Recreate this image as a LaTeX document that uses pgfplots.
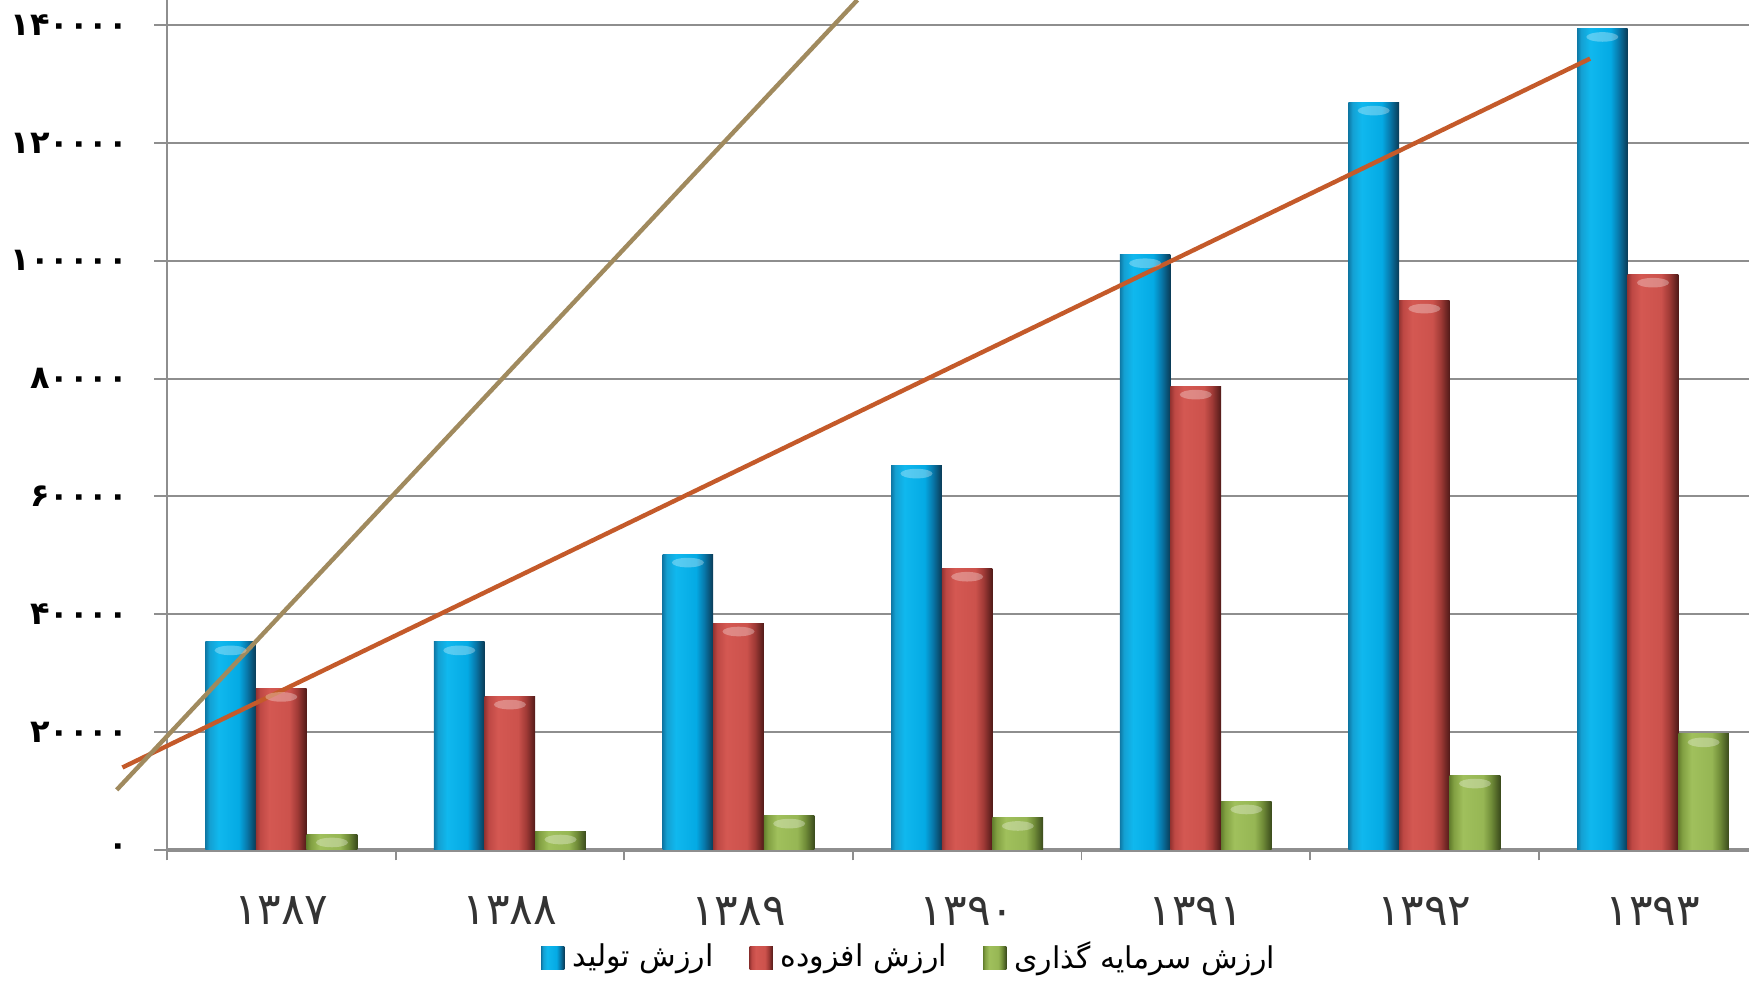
\documentclass[border=0pt]{standalone}
\usepackage{fontspec}
\usepackage{pgfplots}
\usepackage{pgfplotstable}
\pgfplotsset{compat=1.18}
\usetikzlibrary{shapes.geometric}
\TeXXeTstate=1
\newfontfamily\arabicfont[Script=Arabic]{DejaVu Sans}

\definecolor{gridgray}{HTML}{8E8E8E}
\definecolor{trendorange}{HTML}{C45A2A}
\definecolor{trendtan}{HTML}{A08A5E}

% cylinder-like bar shadings; the bar spans 25bp..75bp of the 100bp shading
\pgfdeclarehorizontalshading{barblue}{100bp}{%
  color(0bp)=(rgb,255:red,14;green,120;blue,165);
  color(25bp)=(rgb,255:red,14;green,120;blue,165);
  color(29bp)=(rgb,255:red,20;green,160;blue,210);
  color(38bp)=(rgb,255:red,16;green,184;blue,238);
  color(58bp)=(rgb,255:red,4;green,170;blue,228);
  color(66bp)=(rgb,255:red,8;green,120;blue,170);
  color(75bp)=(rgb,255:red,10;green,58;blue,85);
  color(100bp)=(rgb,255:red,10;green,58;blue,85)}
\pgfdeclarehorizontalshading{barred}{100bp}{%
  color(0bp)=(rgb,255:red,150;green,52;blue,50);
  color(25bp)=(rgb,255:red,150;green,52;blue,50);
  color(29bp)=(rgb,255:red,190;green,72;blue,68);
  color(38bp)=(rgb,255:red,212;green,88;blue,82);
  color(58bp)=(rgb,255:red,204;green,82;blue,76);
  color(66bp)=(rgb,255:red,160;green,58;blue,54);
  color(75bp)=(rgb,255:red,80;green,26;blue,24);
  color(100bp)=(rgb,255:red,80;green,26;blue,24)}
\pgfdeclarehorizontalshading{bargreen}{100bp}{%
  color(0bp)=(rgb,255:red,100;green,128;blue,46);
  color(25bp)=(rgb,255:red,100;green,128;blue,46);
  color(29bp)=(rgb,255:red,130;green,160;blue,66);
  color(38bp)=(rgb,255:red,160;green,192;blue,92);
  color(58bp)=(rgb,255:red,150;green,182;blue,84);
  color(66bp)=(rgb,255:red,112;green,140;blue,56);
  color(75bp)=(rgb,255:red,58;green,74;blue,28);
  color(100bp)=(rgb,255:red,58;green,74;blue,28)}

% years 1387..1393 at category centres 0.5 .. 6.5
\pgfplotstableread{
x    prod    added  invest
0.5  35300   27400  2700
1.5  35300   26100  3200
2.5  50200   38500  5900
3.5  65300   47800  5500
4.5  101000  78700  8300
5.5  126900  93300  12700
6.5  139400  97700  19700
}\datatable

% one bar width = 0.2215 units = 12.66pt on this axis
\pgfplotsset{
  cylbar/.style={ybar, bar width=0.2215, bar shift=#1*0.2215, draw=none, shade,
    forget plot,
    nodes near coords={},
    every node near coord/.append style={anchor=north, yshift=-0.7pt,
      xshift=#1*12.66pt,
      ellipse, inner sep=0pt, minimum width=8pt, minimum height=2.4pt,
      fill=white, fill opacity=0.3, draw=none}},
}

\begin{document}
\begin{tikzpicture}
\useasboundingbox (-41.75pt,-33pt) rectangle (395.5pt,212.5pt);
\begin{axis}[
  at={(0pt,0pt)}, anchor=south west,
  scale only axis,
  width=395.5pt, height=212.5pt,
  xmin=0, xmax=6.92,
  ymin=0, ymax=144250,
  clip=false,
  axis lines*=left,
  x axis line style={draw=gridgray, line width=0.8pt},
  y axis line style={draw=gridgray, line width=0.45pt},
  tick align=outside,
  major tick length=3.2pt,
  minor tick length=2.6pt,
  xtick={0.5,1.5,...,6.5},
  xticklabels={۱۳۸۷,۱۳۸۸,۱۳۸۹,۱۳۹۰,۱۳۹۱,۱۳۹۲,۱۳۹۳},
  minor xtick={0,1,...,6},
  major x tick style={draw=none},
  minor x tick style={draw=gridgray, line width=0.45pt},
  xticklabel style={font=\arabicfont\fontsize{11}{12}\selectfont, text=black!80, yshift=-5pt},
  ytick={0,20000,...,140000},
  yticklabels={۰,۲۰۰۰۰,۴۰۰۰۰,۶۰۰۰۰,۸۰۰۰۰,۱۰۰۰۰۰,۱۲۰۰۰۰,۱۴۰۰۰۰},
  yticklabel style={font=\arabicfont\bfseries\fontsize{8}{9}\selectfont, anchor=east,
    xshift=-3pt, inner ysep=0pt},
  major y tick style={draw=gridgray, line width=0.5pt},
  ymajorgrids,
  major grid style={draw=gridgray, line width=0.5pt},
  legend style={at={(0.471,0)}, anchor=center, yshift=-27pt,
    draw=none, fill=none, legend columns=3,
    font=\arabicfont\fontsize{7.5}{9}\selectfont,
    /tikz/every even column/.append style={column sep=7pt}},
  legend image code/.code={\path[#1,draw=none] (0pt,-2.9pt) rectangle (5.8pt,2.9pt);},
]
% one plot per bar so that each bar gets its own shading
\pgfplotsinvokeforeach{0,...,6}{
  \addplot[cylbar=-1, shading=barblue,
    restrict expr to domain={\coordindex}{#1:#1}]
    table[x=x, y=prod] {\datatable};
  \addplot[cylbar=0, shading=barred,
    restrict expr to domain={\coordindex}{#1:#1}]
    table[x=x, y=added] {\datatable};
  \addplot[cylbar=1, shading=bargreen,
    restrict expr to domain={\coordindex}{#1:#1}]
    table[x=x, y=invest] {\datatable};
}
\addlegendimage{shade, shading=barblue}
\addlegendentry{\beginR ارزش تولید\endR}
\addlegendimage{shade, shading=barred}
\addlegendentry{\beginR ارزش افزوده\endR}
\addlegendimage{shade, shading=bargreen}
\addlegendentry{\beginR ارزش سرمایه گذاری\endR}

% trend lines
\addplot[trendorange, line width=1.1pt, forget plot]
  coordinates {(-0.195,14000) (6.225,134300)};
\addplot[trendtan, line width=1.1pt, forget plot]
  coordinates {(-0.22,10200) (3.02,144250)};
\end{axis}
\end{tikzpicture}
\end{document}
